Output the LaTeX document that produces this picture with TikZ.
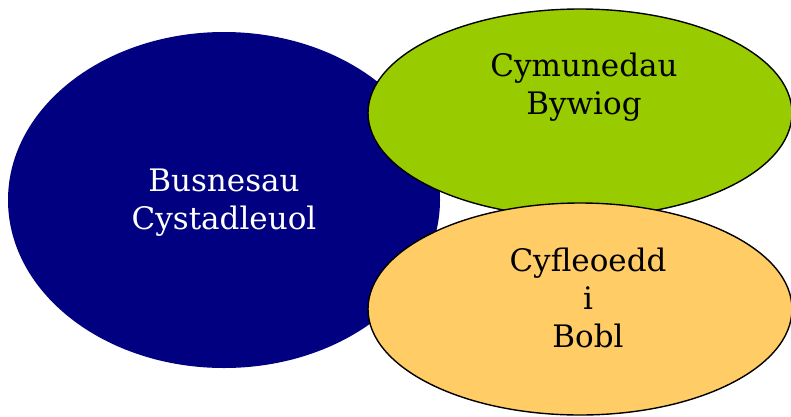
\documentclass[tikz,border=0pt]{standalone}
\usepackage{fontspec}
\setmainfont{DejaVu Serif}
\usepackage{xcolor}
\definecolor{busnavy}{HTML}{000080}
\definecolor{cymgreen}{HTML}{99CC00}
\definecolor{cyforange}{HTML}{FFCC66}
\tikzset{
    circtext/.style={align=center, font=\fontsize{31}{38}\selectfont},
}

\begin{document}
\begin{tikzpicture}[x=1pt, y=-1pt]
    \useasboundingbox (0,0) rectangle (791,416);
    \coordinate (B) at (224,200);
    \fill[busnavy] (B) ellipse (216 and 168); % busnesau
    \coordinate (C) at (580,113);
    \filldraw[fill=cymgreen, draw=black, line width=1.4pt] (C) ellipse (212 and 104); % cymunedau
    \coordinate (P) at (580,309);
    \filldraw[fill=cyforange, draw=black, line width=1.4pt] (P) ellipse (212 and 106); % cyfleoedd
    \node[circtext, white] (busnesau) at (224,203) {Busnesau\\Cystadleuol};
    \node[circtext] (cymunedau) at (584,87) {Cymunedau\\Bywiog};
    \node[circtext] (cyfleoedd) at (588,298) {Cyfleoedd\\i\\Bobl};
\end{tikzpicture}
\end{document}
